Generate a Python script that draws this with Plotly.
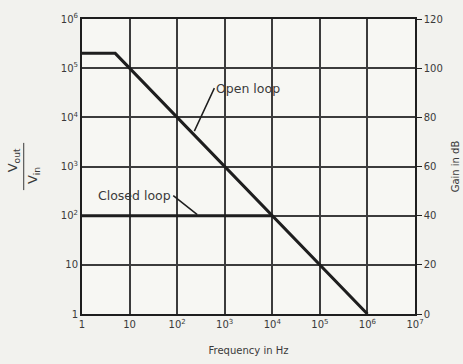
import numpy as np
import plotly.graph_objects as go

# Op-amp gain vs frequency (asymptotic Bode magnitude)
open_freq = [1, 5, 1e6]
open_gain = [2e5, 2e5, 1]
closed_freq = [1, 1e4]
closed_gain = [100, 100]

x_tickvals = [1, 10, 1e2, 1e3, 1e4, 1e5, 1e6, 1e7]
x_ticktext = ["1", "10", "10<sup>2</sup>", "10<sup>3</sup>", "10<sup>4</sup>",
              "10<sup>5</sup>", "10<sup>6</sup>", "10<sup>7</sup>"]
y_tickvals = [1, 10, 1e2, 1e3, 1e4, 1e5, 1e6]
y_ticktext = ["1", "10", "10<sup>2</sup>", "10<sup>3</sup>", "10<sup>4</sup>",
              "10<sup>5</sup>", "10<sup>6</sup>"]
db_tickvals = [0, 20, 40, 60, 80, 100, 120]

ink = "#1e1e1e"
label = "#3a3a3a"
font_family = "DejaVu Sans, Verdana, sans-serif"

fig = go.Figure()
fig.add_trace(go.Scatter(x=open_freq, y=open_gain, mode="lines",
                         line=dict(color=ink, width=3), showlegend=False))
fig.add_trace(go.Scatter(x=closed_freq, y=closed_gain, mode="lines",
                         line=dict(color=ink, width=3), showlegend=False))
# invisible trace to activate the dB axis
fig.add_trace(go.Scatter(x=[1], y=[0], yaxis="y2", mode="markers",
                         marker=dict(opacity=0), showlegend=False, hoverinfo="skip"))

fig.update_layout(
    width=463, height=364,
    margin=dict(l=82, r=48, t=19, b=50),
    paper_bgcolor="#f2f2ee",
    plot_bgcolor="#f7f7f3",
    font=dict(family=font_family, size=10, color=label),
    xaxis=dict(type="log", range=[0, 7], tickvals=x_tickvals, ticktext=x_ticktext,
               showgrid=True, gridcolor="#3c3c3c", gridwidth=1.5,
               showline=True, linecolor=ink, linewidth=2, mirror=True,
               ticks="", zeroline=False, automargin=False,
               title=dict(text="Frequency in Hz", font=dict(size=10, color=label), standoff=18)),
    yaxis=dict(type="log", range=[0, 6], tickvals=y_tickvals, ticktext=y_ticktext,
               showgrid=True, gridcolor="#3c3c3c", gridwidth=1.5,
               showline=True, linecolor=ink, linewidth=2,
               ticks="", zeroline=False, automargin=False),
    yaxis2=dict(overlaying="y", side="right", range=[0, 120], tickvals=db_tickvals,
                showgrid=False, zeroline=False, showline=True, linecolor=ink, linewidth=1.5,
                ticks="outside", ticklen=5, tickcolor=ink, automargin=False,
                title=dict(text="Gain in dB", font=dict(size=10, color=label), standoff=10)),
    showlegend=False,
)

# Curve labels with leader lines (tail anchored at the text edge)
fig.add_annotation(x=np.log10(230), y=np.log10(1e6 / 230) + 0.08, xref="x", yref="y",
                   text="Open loop", showarrow=True, arrowhead=0, arrowwidth=1.5,
                   arrowcolor=ink, ax=20, ay=-43, xanchor="left", yanchor="middle",
                   font=dict(size=12.5, color=label))
fig.add_annotation(x=np.log10(265), y=2.02, xref="x", yref="y",
                   text="Closed loop", showarrow=True, arrowhead=0, arrowwidth=1.5,
                   arrowcolor=ink, ax=-24, ay=-19, xanchor="right", yanchor="middle",
                   font=dict(size=12.5, color=label))

# Left axis title drawn as a rotated fraction Vout / Vin
fig.add_annotation(x=-0.205, y=0.52, xref="paper", yref="paper",
                   text="V<sub>out</sub>", textangle=-90, showarrow=False,
                   font=dict(size=13, color=label), xanchor="center", yanchor="middle")
fig.add_annotation(x=-0.145, y=0.47, xref="paper", yref="paper",
                   text="V<sub>in</sub>", textangle=-90, showarrow=False,
                   font=dict(size=13, color=label), xanchor="center", yanchor="middle")
fig.add_shape(type="line", xref="paper", yref="paper",
              x0=-0.175, x1=-0.175, y0=0.42, y1=0.58,
              line=dict(color=label, width=1))

fig.write_html("out.html")
